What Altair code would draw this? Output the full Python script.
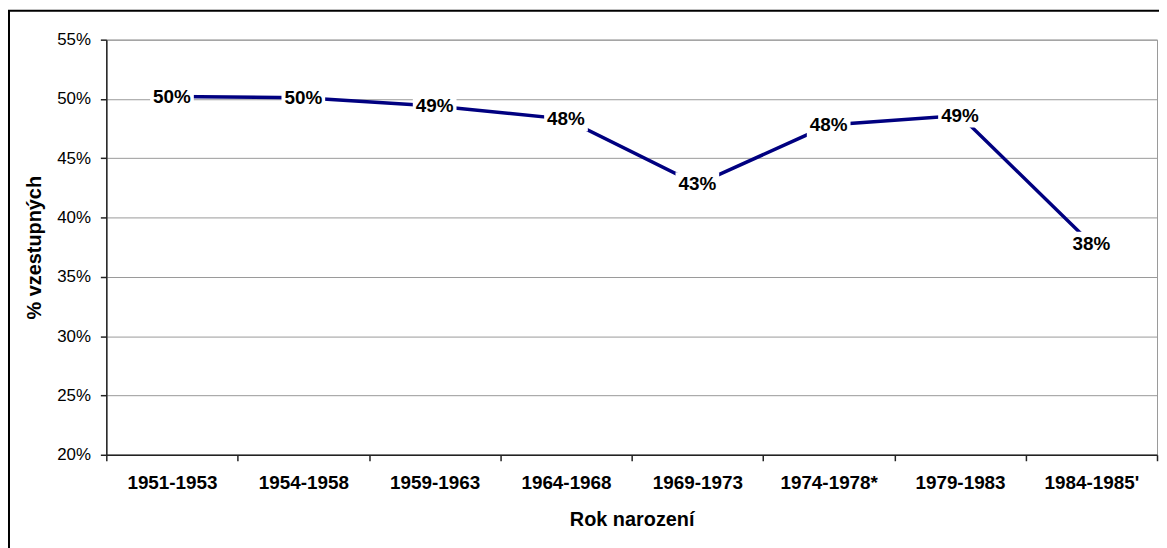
import altair as alt
import pandas as pd

categories = ["1951-1953", "1954-1958", "1959-1963", "1964-1968",
              "1969-1973", "1974-1978*", "1979-1983", "1984-1985'"]
values = [0.502, 0.501, 0.494, 0.483, 0.428, 0.478, 0.486, 0.378]
y_ticks = [0.20, 0.25, 0.30, 0.35, 0.40, 0.45, 0.50, 0.55]

df = pd.DataFrame({"cat": categories, "val": values})

FONT = "Liberation Sans"
W, H = 1058, 418

x_enc = alt.X(
    "cat:N", sort=categories, bandPosition=0.5,
    scale=alt.Scale(type="band", paddingInner=0, paddingOuter=0),
    axis=alt.Axis(
        title="Rok narození", labelAngle=0, tickBand="extent", grid=False,
        labelFont=FONT, labelFontSize=19, labelFontWeight="bold", labelColor="black",
        labelPadding=13, tickSize=6, tickColor="#222", domainColor="#222",
        domainWidth=1.5, tickWidth=1.5,
        titleFont=FONT, titleFontSize=20, titleFontWeight="bold", titleColor="black",
        titleY=65, titleBaseline="middle",
    ),
)
y_enc = alt.Y(
    "val:Q",
    scale=alt.Scale(domain=[0.20, 0.55], nice=False, zero=False),
    axis=alt.Axis(
        title="% vzestupných", values=y_ticks, format=".0%",
        labelFont=FONT, labelFontSize=17, labelColor="black", labelPadding=10,
        tickSize=6, tickColor="#222", domainColor="#222", domainWidth=1.5, tickWidth=1.5,
        gridColor="#999999", gridWidth=1,
        titleFont=FONT, titleFontSize=20, titleFontWeight="bold", titleColor="black",
        titleX=-72, titleY=H / 2, titleBaseline="middle", titleAngle=-90,
    ),
)

base = alt.Chart(df)

line = base.mark_line(color="#000080", strokeWidth=3.5).encode(x=x_enc, y=y_enc)

boxes = base.mark_point(
    shape="M-1,-0.55L1,-0.55L1,0.55L-1,0.55Z", filled=True, fill="white",
    opacity=1, size=44 * 44, strokeWidth=0,
).encode(x=alt.X("cat:N", sort=categories, bandPosition=0.5), y="val:Q")

labels = base.mark_text(
    font=FONT, fontSize=19, fontWeight="bold", color="black",
    align="center", baseline="middle",
).encode(
    x=alt.X("cat:N", sort=categories, bandPosition=0.5), y="val:Q",
    text=alt.Text("val:Q", format=".0%"),
)

frame = alt.Chart(pd.DataFrame({"a": [0]})).mark_rect(
    fill=None, stroke="black", strokeWidth=2, clip=False
).encode(
    x=alt.value(-98), x2=alt.value(W + 40), y=alt.value(-29), y2=alt.value(H + 140)
)

chart = alt.layer(line, boxes, labels, frame).properties(
    width=W, height=H,
    autosize=alt.AutoSizeParams(type="none"),
    padding={"left": 99, "top": 30, "right": 2, "bottom": 92},
    background="white",
).configure_view(stroke="#999999", strokeWidth=1)

chart.save("out.html", embed_options={"renderer": "svg", "actions": False})
